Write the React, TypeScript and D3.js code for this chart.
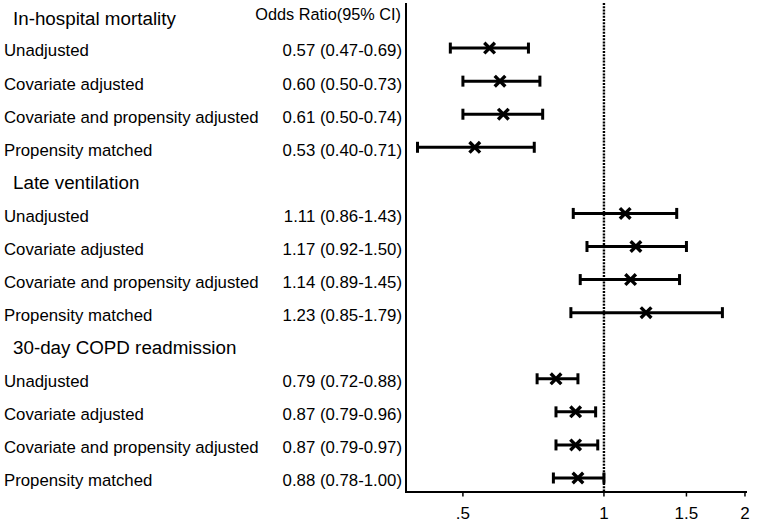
import React from "react";
import * as d3 from "d3";

const groups = ["In-hospital mortality", "Late ventilation", "30-day COPD readmission"];
const methods = ["Unadjusted", "Covariate adjusted", "Covariate and propensity adjusted", "Propensity matched"];
const orValues = [
  [0.57, 0.60, 0.61, 0.53],
  [1.11, 1.17, 1.14, 1.23],
  [0.79, 0.87, 0.87, 0.88],
];
const lowerCI = [
  [0.47, 0.50, 0.50, 0.40],
  [0.86, 0.92, 0.89, 0.85],
  [0.72, 0.79, 0.79, 0.78],
];
const upperCI = [
  [0.69, 0.73, 0.74, 0.71],
  [1.43, 1.50, 1.45, 1.79],
  [0.88, 0.96, 0.97, 1.00],
];
const tickValues = [0.5, 1, 1.5, 2];
const tickLabels = [".5", "1", "1.5", "2"];

const W = 757;
const H = 523;
const FONT = "'Liberation Sans', Arial, Helvetica, sans-serif";

export default function App() {
  const x = d3.scaleLog().domain([0.378, 2.02]).range([406, 747]);
  const nRows = groups.length * (methods.length + 1);
  const y = d3.scalePoint<number>().domain(d3.range(nRows)).range([15, 478]);
  const axisY = 492;

  type Row = { kind: "header"; label: string; i: number } | { kind: "row"; label: string; i: number; or: number; lo: number; hi: number };
  const rows: Row[] = [];
  let idx = 0;
  groups.forEach((g, gi) => {
    rows.push({ kind: "header", label: g, i: idx++ });
    methods.forEach((m, mi) => {
      rows.push({ kind: "row", label: m, i: idx++, or: orValues[gi][mi], lo: lowerCI[gi][mi], hi: upperCI[gi][mi] });
    });
  });

  const fmt = (v: number) => v.toFixed(2);
  const cap = 5.5;
  const ms = 5.3;

  return (
    <svg width={W} height={H} style={{ position: "absolute", left: 0, top: 0, background: "#fff" }} fontFamily={FONT}>
      <rect x={0} y={0} width={W} height={H} fill="#fff" />
      <text x={401} y={20} textAnchor="end" fontSize={16.3} fill="#000">Odds Ratio(95% CI)</text>

      {rows.map((r) => {
        const yy = y(r.i)!;
        if (r.kind === "header") {
          return (
            <text key={r.i} x={13} y={yy + (r.i === 0 ? 10 : 8.5)} fontSize={18.8} fill="#000">{r.label}</text>
          );
        }
        const xo = x(r.or), xl = x(r.lo), xh = x(r.hi);
        return (
          <g key={r.i}>
            <text x={4} y={yy + 8.4} fontSize={16.8} fill="#000">{r.label}</text>
            <text x={402} y={yy + 8.4} fontSize={16.8} fill="#000" textAnchor="end">{`${fmt(r.or)} (${fmt(r.lo)}-${fmt(r.hi)})`}</text>
            <line x1={xl} x2={xh} y1={yy} y2={yy} stroke="#000" strokeWidth={3} />
            <line x1={xl} x2={xl} y1={yy - cap} y2={yy + cap} stroke="#000" strokeWidth={3} />
            <line x1={xh} x2={xh} y1={yy - cap} y2={yy + cap} stroke="#000" strokeWidth={3} />
            <path d={`M${xo - ms},${yy - ms}L${xo + ms},${yy + ms}M${xo - ms},${yy + ms}L${xo + ms},${yy - ms}`} stroke="#000" strokeWidth={3.4} fill="none" />
          </g>
        );
      })}

      <line x1={x(1)} x2={x(1)} y1={3} y2={axisY} stroke="#000" strokeWidth={2.4} strokeDasharray="2 1.2" />

      <line x1={406} x2={406} y1={3} y2={axisY + 1} stroke="#000" strokeWidth={2} />
      <line x1={405} x2={747} y1={axisY} y2={axisY} stroke="#000" strokeWidth={2} />
      {tickValues.map((t, i) => (
        <g key={t}>
          <line x1={x(t)} x2={x(t)} y1={axisY} y2={axisY + 4.5} stroke="#000" strokeWidth={1.5} />
          <text x={x(t)} y={518.5} textAnchor="middle" fontSize={17} fill="#000">{tickLabels[i]}</text>
        </g>
      ))}
    </svg>
  );
}
